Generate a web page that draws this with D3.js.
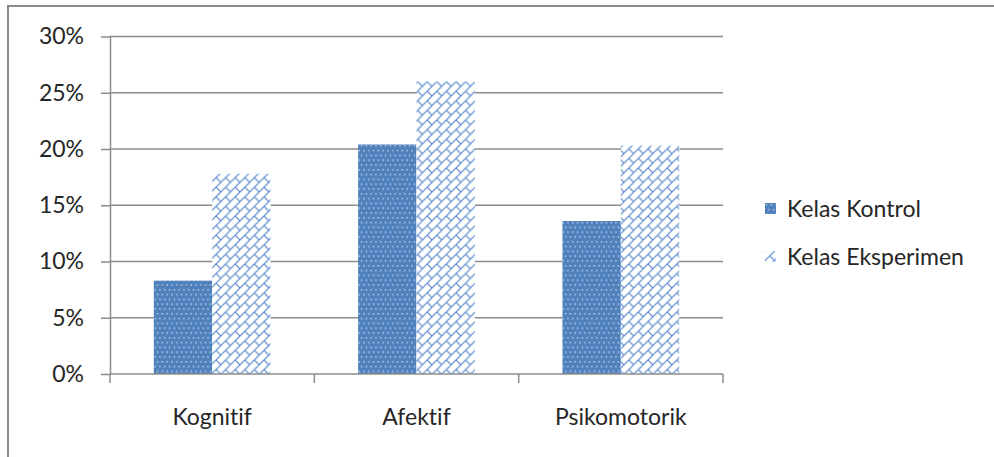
<!DOCTYPE html>
<html>
<head>
<meta charset="utf-8">
<script src="https://cdn.jsdelivr.net/npm/d3@7"></script>
<style>
  html, body { margin: 0; padding: 0; background: #fff; }
  svg { display: block; }
  text { font-family: Lato, "Open Sans", sans-serif; fill: #262626; font-variant-ligatures: none; }
</style>
</head>
<body>
<svg id="chart" width="994" height="457"></svg>
<script>
// Data: share of students per learning domain (percent)
const categories = ["Kognitif", "Afektif", "Psikomotorik"];
const seriesNames = ["Kelas Kontrol", "Kelas Eksperimen"];
const kontrol = [8.3, 20.4, 13.6];
const eksperimen = [17.8, 26.0, 20.3];
const yTicks = [0, 5, 10, 15, 20, 25, 30];

const values = [kontrol, eksperimen];

const svg = d3.select("#chart");
const W = 994, H = 457;
const plot = { left: 110, right: 723, top: 36.5, bottom: 374 };
const gridColor = "#8c8c8c";
const blue = "#4f81bd";
const hatchBlue = "#6a95d2";
const fontSize = 23;
const textColor = "#262626";
const fontFamily = "Lato, 'Open Sans', sans-serif";

// ---- fill patterns ----
const defs = svg.append("defs");

// dotted fill for the control class
const dotW = 4.8, dotH = 9.6;
const pDots = defs.append("pattern")
  .attr("id", "dots")
  .attr("patternUnits", "userSpaceOnUse")
  .attr("width", dotW).attr("height", dotH);
pDots.append("rect").attr("width", dotW).attr("height", dotH).attr("fill", blue);
[[1, 1.2], [3.4, 6]].forEach(([cx, cy]) => {
  pDots.append("rect").attr("x", cx).attr("y", cy).attr("width", 1.2).attr("height", 1.2)
    .attr("fill", "#ffffff").attr("opacity", 0.9);
});

// diagonal brick fill for the experiment class
const T = 9.6;
const pBrick = defs.append("pattern")
  .attr("id", "brick")
  .attr("patternUnits", "userSpaceOnUse")
  .attr("width", T).attr("height", T);
pBrick.append("rect").attr("width", T).attr("height", T).attr("fill", "#ffffff");
pBrick.append("path")
  .attr("d", `M0,${T} L${T},0 M-1,1 L1,-1 M${T - 1},${T + 1} L${T + 1},${T - 1} M${T / 2},${T / 2} L${T},${T}`)
  .attr("stroke", hatchBlue).attr("stroke-width", 1.3).attr("fill", "none");

const fills = ["url(#dots)", "url(#brick)"];

// ---- outer chart frame ----
svg.append("rect")
  .attr("x", 8).attr("y", 6)
  .attr("width", W + 20).attr("height", H + 20)
  .attr("fill", "none").attr("stroke", "#8a8a8a").attr("stroke-width", 2);

// ---- scales ----
const x = d3.scaleBand().domain(categories).range([plot.left, plot.right]).paddingInner(0).paddingOuter(0);
const y = d3.scaleLinear().domain([0, 30]).range([plot.bottom, plot.top]);
const barW = x.bandwidth() / 3.5;   // gap width 150%
const xs = d3.scaleBand().domain(seriesNames)
  .range([0.75 * barW, 2.75 * barW]).padding(0);

// ---- gridlines ----
svg.append("g").selectAll("line").data(yTicks.filter(d => d > 0)).join("line")
  .attr("x1", plot.left).attr("x2", plot.right)
  .attr("y1", d => y(d)).attr("y2", d => y(d))
  .attr("stroke", gridColor).attr("stroke-width", 1.5);

// ---- bars ----
seriesNames.forEach((name, si) => {
  svg.append("g").selectAll("rect").data(categories).join("rect")
    .attr("x", c => x(c) + xs(name))
    .attr("width", xs.bandwidth())
    .attr("y", (c, i) => y(values[si][i]))
    .attr("height", (c, i) => y(0) - y(values[si][i]))
    .attr("fill", fills[si]);
});

// ---- y axis ----
const yAxis = svg.append("g")
  .attr("transform", `translate(${plot.left},0)`)
  .call(d3.axisLeft(y).tickValues(yTicks).tickFormat(d => d + "%").tickSize(9).tickSizeOuter(0).tickPadding(17));
yAxis.select(".domain").attr("stroke", gridColor).attr("stroke-width", 1.5);
yAxis.selectAll(".tick line").attr("stroke", gridColor).attr("stroke-width", 1.5);
yAxis.selectAll(".tick text")
  .attr("font-family", fontFamily)
  .attr("font-size", fontSize).attr("fill", textColor);

// ---- x axis ----
const xAxis = svg.append("g")
  .attr("transform", `translate(0,${plot.bottom})`)
  .call(d3.axisBottom(x).tickSize(0).tickSizeOuter(0).tickPadding(0));
xAxis.select(".domain").remove();
svg.append("line")
  .attr("x1", plot.left).attr("x2", plot.right)
  .attr("y1", plot.bottom).attr("y2", plot.bottom)
  .attr("stroke", gridColor).attr("stroke-width", 1.5);
xAxis.selectAll(".tick text")
  .attr("y", 51).attr("dy", 0)
  .attr("font-family", fontFamily)
  .attr("font-size", fontSize).attr("fill", textColor);
// category boundary ticks
const edges = categories.map(c => x(c)).concat([x.range()[1]]);
svg.append("g").selectAll("line").data(edges).join("line")
  .attr("x1", d => d).attr("x2", d => d)
  .attr("y1", plot.bottom).attr("y2", plot.bottom + 9)
  .attr("stroke", gridColor).attr("stroke-width", 1.5);

// ---- legend ----
const legend = svg.append("g").attr("transform", "translate(765,203)");
seriesNames.forEach((name, i) => {
  const g = legend.append("g").attr("transform", `translate(0,${i * 48})`);
  g.append("rect").attr("x", 0).attr("y", 0).attr("width", 11).attr("height", 11)
    .attr("fill", fills[i]);
  g.append("text").attr("x", 22).attr("y", 14)
    .attr("font-size", fontSize).attr("fill", textColor)
    .text(name);
});
</script>
</body>
</html>
